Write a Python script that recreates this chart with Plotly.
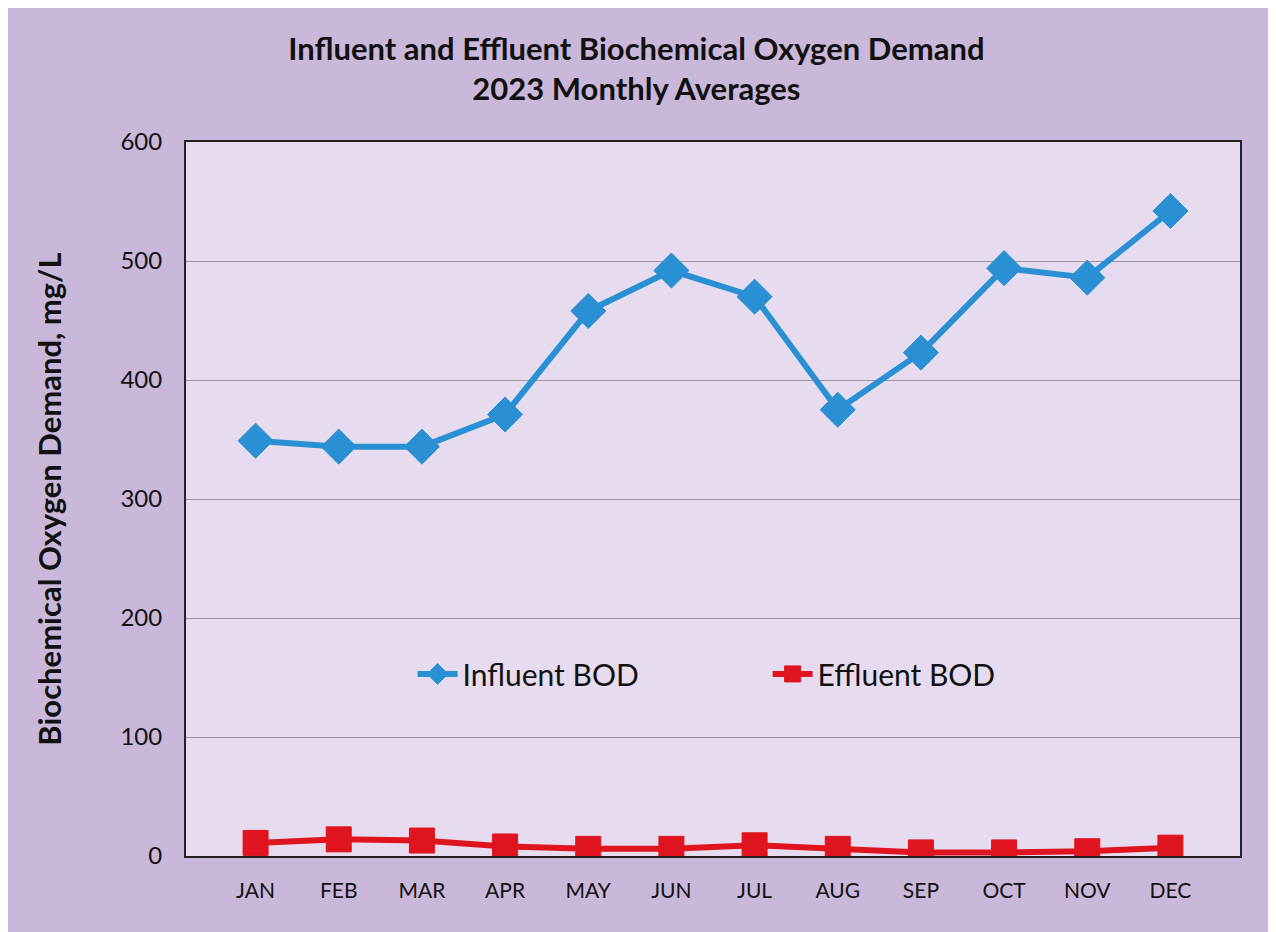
import plotly.graph_objects as go

months = ["JAN", "FEB", "MAR", "APR", "MAY", "JUN", "JUL", "AUG", "SEP", "OCT", "NOV", "DEC"]
influent_bod = [349, 344, 344, 371, 458, 492, 470, 375, 423, 494, 486, 542]
effluent_bod = [11, 14, 13, 8, 6, 6, 9, 6, 3, 3, 4, 7]
y_ticks = [0, 100, 200, 300, 400, 500, 600]

FONT = "Lato, 'Open Sans', sans-serif"

fig = go.Figure()
fig.add_trace(go.Scatter(
    x=months, y=influent_bod, name="Influent BOD", mode="lines+markers",
    line=dict(color="#2a90d4", width=6),
    marker=dict(symbol="diamond", size=27, color="#2a90d4", line=dict(color="#2f8fd2", width=1)),
))
fig.add_trace(go.Scatter(
    x=months, y=effluent_bod, name="Effluent BOD", mode="lines+markers",
    line=dict(color="#e0141e", width=6),
    marker=dict(symbol="square", size=25, color="#e0141e", line=dict(color="#e0141e", width=1)),
))

fig.update_layout(
    width=1276, height=932,
    paper_bgcolor="#c9b8da",
    plot_bgcolor="#e7dcef",
    margin=dict(l=178, r=44, t=134, b=84),
    title=dict(
        text="<b>Influent and Effluent Biochemical Oxygen Demand<br>2023 Monthly Averages</b>",
        x=0.4925, xanchor="center", xref="container", y=0.944, yanchor="middle",
        font=dict(family=FONT, size=31, color="#111111"),
    ),
    font=dict(family=FONT, color="#111111"),
    showlegend=True,
    legend=dict(
        orientation="h", x=0.215, xanchor="left", y=0.255, yanchor="middle",
        bgcolor="rgba(0,0,0,0)", font=dict(family=FONT, size=30, color="#111111"),
        itemwidth=40, entrywidth=300,
    ),
    xaxis=dict(
        type="category", showgrid=False, showline=True, linecolor="#222222", linewidth=2,
        mirror=True, ticks="", tickfont=dict(family=FONT, size=21), ticklabelstandoff=15,
    ),
    yaxis=dict(
        range=[0, 600], tickvals=y_ticks, showgrid=True, gridcolor="#9a949e", gridwidth=1,
        showline=True, linecolor="#222222", linewidth=2, mirror=True, ticks="",
        tickfont=dict(family=FONT, size=24), ticklabelstandoff=17, zeroline=False,
        title=dict(text="<b>Biochemical Oxygen Demand, mg/L</b>", font=dict(family=FONT, size=31), standoff=50),
    ),
)

fig.write_html("out.html")
